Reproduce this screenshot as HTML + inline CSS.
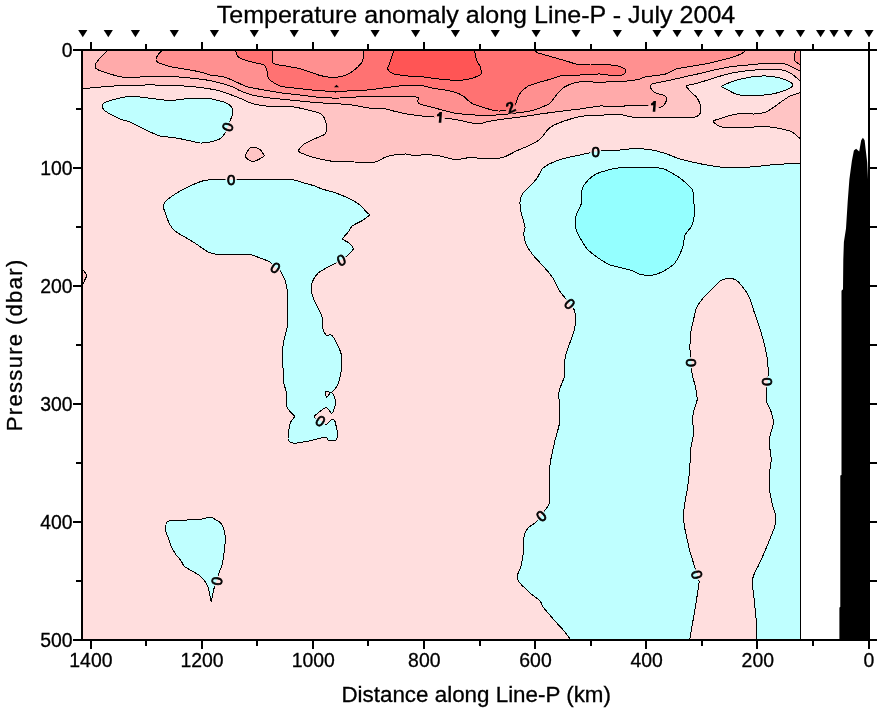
<!DOCTYPE html>
<html><head><meta charset="utf-8"><title>Temperature anomaly along Line-P</title>
<style>html,body{margin:0;padding:0;background:#fff}body{width:878px;height:708px;overflow:hidden}svg{display:block;will-change:transform}text{font-family:"Liberation Sans",sans-serif;fill:#000;stroke:#000;stroke-width:0.3px}</style></head><body>
<svg width="878" height="708" viewBox="0 0 878 708">
<rect width="878" height="708" fill="#fff"/>
<defs><clipPath id="cp"><rect x="83" y="51" width="717.5" height="588"/></clipPath></defs>
<defs><mask id="lm" maskUnits="userSpaceOnUse" x="0" y="0" width="878" height="708"><rect width="878" height="708" fill="#fff"/><ellipse cx="227.6" cy="126.9" rx="5.6" ry="6.6" transform="rotate(-70 227.6 126.9)" fill="#000"/><ellipse cx="231.1" cy="179.4" rx="5.6" ry="6.6" transform="rotate(0 231.1 179.4)" fill="#000"/><ellipse cx="275.7" cy="267.6" rx="5.6" ry="6.6" transform="rotate(35 275.7 267.6)" fill="#000"/><ellipse cx="341.2" cy="259.8" rx="5.6" ry="6.6" transform="rotate(-20 341.2 259.8)" fill="#000"/><ellipse cx="320.6" cy="420.8" rx="5.6" ry="6.6" transform="rotate(35 320.6 420.8)" fill="#000"/><ellipse cx="216.6" cy="581" rx="5.6" ry="6.6" transform="rotate(-82 216.6 581)" fill="#000"/><ellipse cx="595.6" cy="151.4" rx="5.6" ry="6.6" transform="rotate(0 595.6 151.4)" fill="#000"/><ellipse cx="569.8" cy="303.7" rx="5.6" ry="6.6" transform="rotate(45 569.8 303.7)" fill="#000"/><ellipse cx="541.1" cy="515.9" rx="5.6" ry="6.6" transform="rotate(-40 541.1 515.9)" fill="#000"/><ellipse cx="691.5" cy="362.6" rx="5.6" ry="6.6" transform="rotate(90 691.5 362.6)" fill="#000"/><ellipse cx="767.6" cy="381.8" rx="5.6" ry="6.6" transform="rotate(90 767.6 381.8)" fill="#000"/><ellipse cx="697.1" cy="574.7" rx="5.6" ry="6.6" transform="rotate(75 697.1 574.7)" fill="#000"/><ellipse cx="439.6" cy="117.4" rx="5.4" ry="6.6" transform="rotate(4 439.6 117.4)" fill="#000"/><ellipse cx="653.6" cy="106.4" rx="5.4" ry="6.6" transform="rotate(4 653.6 106.4)" fill="#000"/><ellipse cx="510.6" cy="107.3" rx="5.6" ry="6.6" transform="rotate(-25 510.6 107.3)" fill="#000"/></mask></defs>
<g clip-path="url(#cp)">
<rect x="83" y="51" width="717.5" height="588" fill="#FFDEDE"/>
<path d="M82.0,88.7 C84.2,88.5 95.4,87.5 100.0,87.1 C104.6,86.7 115.3,85.9 120.1,85.7 C124.9,85.5 135.3,85.2 140.1,85.1 C144.9,85.0 155.4,85.0 160.2,85.1 C165.0,85.2 175.4,85.4 180.2,85.7 C185.0,86.0 195.5,86.9 200.3,87.5 C205.1,88.1 215.5,89.8 220.3,91.1 C225.1,92.4 236.2,96.8 240.0,98.3 C243.8,99.8 248.9,102.6 252.0,103.5 C255.1,104.4 262.6,105.6 266.0,106.0 C269.4,106.4 276.6,106.6 280.0,106.7 C283.4,106.8 290.6,106.6 294.0,107.0 C297.4,107.4 304.9,109.2 308.2,110.0 C311.5,110.8 319.2,112.8 321.2,114.0 C323.2,115.2 324.6,118.4 325.2,120.0 C325.8,121.6 326.6,125.3 326.6,127.0 C326.6,128.7 326.7,132.6 325.2,134.0 C323.7,135.4 316.7,137.8 314.2,139.0 C311.7,140.2 306.0,142.6 304.1,144.0 C302.2,145.4 298.3,149.7 298.5,151.0 C298.7,152.3 303.5,154.0 306.1,155.0 C308.7,156.0 316.6,158.2 320.2,159.0 C323.8,159.8 332.1,161.4 336.2,161.8 C340.3,162.2 350.1,161.9 354.2,162.0 C358.3,162.1 367.4,163.1 370.3,163.0 C373.2,162.9 376.6,161.6 378.3,161.0 C380.0,160.4 382.4,158.3 384.3,157.6 C386.2,156.9 391.6,155.4 394.3,155.0 C397.0,154.6 403.8,153.9 406.4,154.0 C409.0,154.1 413.9,155.9 416.0,156.0 C418.1,156.1 421.1,154.5 424.0,154.5 C426.9,154.5 436.3,155.4 440.0,156.0 C443.7,156.6 451.4,159.4 455.0,159.6 C458.6,159.8 466.0,157.7 470.2,157.6 C474.4,157.5 486.1,159.1 490.2,159.0 C494.3,158.9 501.1,158.0 504.2,157.0 C507.3,156.0 513.2,152.4 516.3,151.0 C519.4,149.6 527.4,146.4 530.3,145.0 C533.2,143.6 538.1,140.9 540.3,139.0 C542.5,137.1 546.6,130.7 548.3,129.0 C550.0,127.3 552.4,126.0 554.3,125.0 C556.2,124.0 561.8,121.9 564.4,121.0 C567.0,120.1 573.6,118.1 576.0,117.5 C578.4,116.9 580.6,116.3 584.0,116.0 C587.4,115.7 599.7,115.2 604.0,115.0 C608.3,114.8 617.2,114.4 620.0,114.5 C622.8,114.6 625.5,115.7 627.5,116.1 C629.5,116.5 632.7,117.4 636.3,117.6 C639.9,117.8 652.0,117.6 657.6,117.6 C663.2,117.6 678.5,117.6 682.7,117.6 C686.9,117.6 690.8,117.6 692.7,117.4 C694.6,117.2 697.4,116.2 698.3,115.7 C699.2,115.2 699.9,114.2 700.2,113.2 C700.5,112.2 701.0,109.0 700.8,107.6 C700.6,106.2 699.5,102.7 698.9,101.3 C698.3,99.9 696.7,97.3 695.8,96.3 C694.9,95.3 692.3,93.5 691.4,92.6 C690.5,91.7 688.9,89.6 688.3,88.8 C687.7,88.0 685.4,86.3 686.2,85.7 C687.0,85.1 692.6,84.5 695.2,83.8 C697.8,83.1 705.0,80.9 707.7,80.0 C710.4,79.1 715.1,77.5 718.0,76.7 C720.9,75.9 728.4,73.7 732.0,73.0 C735.6,72.3 743.9,71.0 748.0,70.6 C752.1,70.2 761.9,69.5 766.0,69.4 C770.1,69.3 779.3,69.6 782.2,70.0 C785.1,70.4 788.0,71.7 790.2,73.0 C792.4,74.3 799.3,80.0 800.5,81.0 L802.5,49 L81,49 Z" fill="#FFC4C4"/>
<path d="M245.4,155.8 C245.7,154.6 248.5,149.1 249.5,148.1 C250.5,147.1 252.7,147.0 253.9,147.2 C255.1,147.4 258.6,148.7 259.7,149.4 C260.8,150.1 262.3,152.4 262.8,153.2 C263.3,154.0 264.5,155.3 264.1,156.0 C263.7,156.7 260.8,158.3 259.7,158.9 C258.6,159.5 255.8,161.0 254.6,161.2 C253.4,161.4 251.0,161.1 250.1,160.8 C249.2,160.5 247.5,158.9 246.9,158.3 C246.3,157.7 245.1,157.0 245.4,155.8Z" fill="#FFC4C4"/>
<path d="M800.5,92.5 C799.3,92.9 792.4,95.0 790.2,96.0 C788.0,97.0 784.1,99.7 782.2,101.0 C780.3,102.3 775.9,105.7 774.0,107.0 C772.1,108.3 768.4,111.2 766.0,112.0 C763.6,112.8 756.9,113.8 754.0,114.0 C751.1,114.2 744.6,113.4 742.0,113.5 C739.4,113.6 734.4,114.5 732.0,115.0 C729.6,115.5 724.2,117.3 722.0,118.0 C719.8,118.7 714.0,120.2 713.4,121.0 C712.8,121.8 716.0,124.3 717.0,125.0 C718.0,125.7 719.5,126.7 722.0,127.0 C724.5,127.3 734.2,127.6 738.0,127.6 C741.8,127.6 750.4,127.1 754.0,127.0 C757.6,126.9 764.6,126.6 768.0,126.8 C771.4,127.0 779.1,128.4 782.0,129.0 C784.9,129.6 789.8,130.8 792.0,132.0 C794.2,133.2 799.5,138.2 800.5,139.0Z" fill="#FFC4C4"/>
<path d="M83,270 L87,275.3 L83,284 Z" fill="#FFC4C4"/>
<path d="M108.0,50.0 C107.0,51.0 101.5,56.3 100.0,58.0 C98.5,59.7 96.1,62.8 95.6,64.0 C95.1,65.2 95.1,67.2 95.6,68.0 C96.1,68.8 98.3,70.0 100.0,70.7 C101.7,71.4 107.6,73.3 110.0,74.0 C112.4,74.7 117.6,76.3 120.0,76.7 C122.4,77.1 126.4,77.5 130.0,77.5 C133.6,77.5 145.2,76.6 150.0,76.5 C154.8,76.4 165.4,76.3 170.2,76.5 C175.0,76.7 185.4,77.5 190.2,78.0 C195.0,78.5 205.5,79.7 210.3,80.7 C215.1,81.7 226.7,84.8 230.3,86.0 C233.9,87.2 237.4,89.6 240.0,90.7 C242.6,91.8 248.4,94.1 252.0,95.0 C255.6,95.9 265.4,97.4 270.0,98.0 C274.6,98.6 285.2,99.5 290.0,100.0 C294.8,100.5 305.4,101.6 310.2,102.0 C315.0,102.4 325.4,103.2 330.2,103.5 C335.0,103.8 345.4,104.1 350.2,104.7 C355.0,105.3 366.1,107.8 370.0,108.2 C373.9,108.6 379.5,107.8 382.5,108.2 C385.5,108.6 392.0,110.7 395.0,111.4 C398.0,112.1 404.6,113.6 407.6,114.1 C410.6,114.6 416.9,115.5 420.1,115.8 C423.3,116.1 431.5,116.8 433.9,117.0 C436.3,117.2 438.5,117.3 440.0,117.5 C441.5,117.7 444.3,118.0 446.4,118.3 C448.5,118.6 454.8,119.4 457.7,119.9 C460.6,120.4 467.6,122.2 470.3,122.7 C473.0,123.2 478.1,123.8 480.0,123.7 C481.9,123.6 483.8,122.5 486.2,122.0 C488.6,121.5 496.1,120.1 500.2,119.5 C504.3,118.9 515.5,117.7 520.3,117.0 C525.1,116.3 535.5,114.7 540.3,114.0 C545.1,113.3 555.6,111.9 560.4,111.3 C565.2,110.7 575.2,109.6 580.0,109.0 C584.8,108.4 595.9,106.3 600.0,106.0 C604.1,105.7 610.1,106.8 614.0,106.7 C617.9,106.6 628.6,105.6 632.5,105.5 C636.4,105.4 644.4,105.4 646.9,105.5 C649.4,105.6 652.0,106.1 653.6,106.3 C655.2,106.5 658.9,107.4 660.1,107.3 C661.3,107.2 663.2,105.8 663.9,105.1 C664.6,104.4 665.8,102.2 666.1,101.3 C666.4,100.4 666.9,98.3 666.6,97.6 C666.3,96.9 664.4,95.6 663.2,95.1 C662.0,94.6 657.5,93.7 656.3,93.2 C655.1,92.7 653.5,91.5 652.8,90.7 C652.1,89.9 650.1,87.7 650.1,86.9 C650.1,86.1 651.2,84.4 652.6,83.8 C654.0,83.2 658.5,82.5 661.4,81.9 C664.3,81.3 672.9,79.6 676.4,78.8 C679.9,78.0 686.7,76.4 690.2,75.6 C693.7,74.8 702.3,73.0 705.2,72.3 C708.1,71.6 710.8,70.7 714.0,70.0 C717.2,69.3 727.4,67.2 732.0,66.6 C736.6,66.0 747.9,65.0 752.0,64.6 C756.1,64.2 762.4,63.5 766.0,63.4 C769.6,63.3 779.3,63.1 782.2,63.4 C785.1,63.7 788.0,65.1 790.2,66.0 C792.4,66.9 799.3,70.7 800.5,71.3 L802.5,49 L108,49 Z" fill="#FFAAAA"/>
<path d="M162.2,50.0 C161.6,50.7 157.9,54.7 157.2,56.0 C156.5,57.3 155.8,60.1 156.2,61.0 C156.6,61.9 158.5,62.7 160.2,63.4 C161.9,64.1 167.3,65.9 170.2,66.6 C173.1,67.3 180.6,68.4 184.2,69.0 C187.8,69.6 197.2,71.3 200.3,72.0 C203.4,72.7 207.4,74.4 210.3,75.0 C213.2,75.6 221.2,76.2 224.3,77.0 C227.4,77.8 233.6,80.9 236.3,82.0 C239.0,83.1 243.1,85.5 246.4,86.5 C249.7,87.5 260.0,89.3 264.0,90.0 C268.0,90.7 275.7,92.1 280.0,92.7 C284.3,93.3 295.2,94.4 300.0,95.0 C304.8,95.6 315.4,97.1 320.2,97.5 C325.0,97.9 335.4,98.1 340.2,98.0 C345.0,97.9 356.7,96.9 360.3,96.7 C363.9,96.5 366.3,96.1 370.0,96.1 C373.7,96.1 385.7,96.5 391.3,96.6 C396.9,96.7 413.8,96.5 417.0,97.1 C420.2,97.7 417.2,100.6 417.6,101.4 C418.0,102.2 418.3,103.4 420.1,104.1 C421.9,104.8 429.7,106.6 432.7,107.4 C435.7,108.2 442.2,110.1 445.2,110.8 C448.2,111.5 453.5,113.1 457.7,113.6 C461.9,114.1 475.4,115.1 480.0,115.3 C484.6,115.5 492.3,115.2 496.2,115.0 C500.1,114.8 508.1,114.0 512.2,113.5 C516.3,113.0 526.7,111.8 530.3,111.0 C533.9,110.2 539.9,108.0 542.3,107.0 C544.7,106.0 548.6,104.4 550.3,103.0 C552.0,101.6 554.6,96.9 556.3,95.0 C558.0,93.1 562.0,88.5 564.4,87.0 C566.8,85.5 572.9,83.2 576.0,82.5 C579.1,81.8 587.4,81.4 590.0,81.5 C592.6,81.6 595.6,83.0 598.0,83.0 C600.4,83.0 607.4,81.7 610.0,81.5 C612.6,81.3 617.9,81.6 620.0,81.5 C622.1,81.4 625.2,81.3 627.5,81.0 C629.8,80.7 636.7,79.9 638.8,79.4 C640.9,78.9 642.8,77.4 645.1,76.9 C647.4,76.4 655.0,75.7 657.6,75.3 C660.2,74.9 664.2,74.6 666.4,73.8 C668.6,73.0 673.2,69.9 676.0,69.0 C678.8,68.1 685.9,67.3 690.0,66.6 C694.1,65.9 706.6,63.7 710.0,63.0 C713.4,62.3 715.4,61.7 718.0,61.0 C720.6,60.3 729.1,58.3 732.0,57.4 C734.9,56.5 740.4,54.3 742.0,53.4 C743.6,52.5 745.3,50.4 745.7,50.0Z" fill="#FF9090"/>
<path d="M796.2,50.0 C796.0,50.7 794.3,54.7 794.2,56.0 C794.1,57.3 794.4,59.9 795.2,61.0 C796.0,62.1 799.9,64.5 800.5,65.0 L802.5,49 Z" fill="#FF9090"/>
<path d="M235.3,50.0 C235.7,50.8 237.0,55.7 238.3,57.0 C239.6,58.3 244.3,59.9 246.4,60.6 C248.5,61.3 253.9,62.5 256.0,63.0 C258.1,63.5 262.7,64.0 264.0,65.0 C265.3,66.0 266.4,69.3 267.0,71.0 C267.6,72.7 267.4,77.2 269.0,79.0 C270.6,80.8 276.3,84.8 280.0,86.0 C283.7,87.2 295.2,88.1 300.0,88.7 C304.8,89.3 315.9,90.4 320.2,90.7 C324.5,91.0 332.4,91.5 336.2,91.5 C340.0,91.5 348.1,90.9 352.2,90.7 C356.3,90.5 365.9,90.2 370.0,89.8 C374.1,89.4 382.1,88.1 386.3,87.6 C390.5,87.1 401.0,85.6 405.1,85.3 C409.2,85.0 416.8,85.1 420.1,85.4 C423.4,85.7 429.7,87.6 432.7,88.2 C435.7,88.8 442.5,89.6 445.2,90.1 C447.9,90.6 453.1,91.6 455.2,92.3 C457.3,93.0 461.2,94.8 462.7,95.7 C464.2,96.6 466.5,99.1 467.7,100.1 C468.9,101.1 471.3,103.1 472.8,103.9 C474.3,104.7 478.1,105.7 480.2,106.4 C482.3,107.1 488.0,108.9 490.2,109.5 C492.4,110.1 496.4,110.9 498.2,111.0 C500.0,111.1 503.7,110.8 505.2,110.5 C506.7,110.2 509.3,109.1 510.5,108.5 C511.7,107.9 514.4,106.6 515.2,105.5 C516.0,104.4 516.7,100.5 517.3,99.0 C517.9,97.5 519.0,94.6 520.3,93.0 C521.6,91.4 525.9,87.3 528.3,86.0 C530.7,84.7 537.4,82.9 540.3,82.0 C543.2,81.1 549.9,79.4 552.3,78.7 C554.7,78.0 557.1,76.4 560.4,76.0 C563.7,75.6 575.2,75.2 580.0,75.0 C584.8,74.8 595.7,73.9 600.0,74.0 C604.3,74.1 613.1,76.0 616.0,76.0 C618.9,76.0 622.6,75.0 623.8,74.4 C625.0,73.8 625.5,71.9 625.6,71.3 C625.7,70.7 625.9,69.6 625.0,69.0 C624.1,68.4 620.5,66.5 618.0,66.0 C615.5,65.5 607.4,64.7 604.0,64.6 C600.6,64.5 593.4,65.1 590.0,65.0 C586.6,64.9 578.8,64.5 576.0,64.0 C573.2,63.5 569.2,61.8 566.4,61.0 C563.6,60.2 555.7,58.0 552.3,57.0 C548.9,56.0 540.5,53.8 538.3,53.0 C536.1,52.2 534.4,50.4 533.9,50.0Z" fill="#FF7272"/>
<path d="M272.7,50.0 C272.7,51.6 271.1,61.1 272.7,63.0 C274.3,64.9 282.7,65.3 286.0,66.0 C289.3,66.7 297.1,68.0 300.0,68.7 C302.9,69.4 307.8,71.2 310.2,72.0 C312.6,72.8 317.3,74.8 320.2,75.5 C323.1,76.2 331.1,77.6 334.2,77.5 C337.3,77.4 343.8,75.9 346.2,75.0 C348.6,74.1 352.5,71.4 354.3,70.0 C356.1,68.6 360.2,64.6 361.3,63.0 C362.4,61.4 363.4,58.6 363.7,57.0 C364.0,55.4 363.7,50.8 363.7,50.0Z" fill="#FF9090"/>
<path d="M394.0,50.0 C393.6,51.2 391.3,58.1 390.7,60.0 C390.1,61.9 389.2,64.6 388.8,65.6 C388.4,66.6 386.8,67.6 387.3,68.5 C387.8,69.4 390.2,72.6 392.6,73.5 C395.0,74.4 404.0,75.6 407.6,76.0 C411.2,76.4 418.8,76.5 422.6,76.9 C426.4,77.3 435.0,78.6 438.9,79.0 C442.8,79.4 451.7,80.3 455.2,80.3 C458.7,80.3 464.7,80.0 467.7,79.4 C470.7,78.8 478.4,75.9 480.0,75.0 C481.6,74.1 481.2,73.1 481.2,72.0 C481.2,70.9 480.6,67.1 480.2,66.0 C479.8,64.9 478.3,64.1 477.8,63.0 C477.3,61.9 476.2,58.6 475.8,57.0 C475.4,55.4 474.7,50.8 474.6,50.0Z" fill="#FF5555"/>
<path d="M102.0,105.1 C102.2,104.1 103.8,102.9 106.0,102.0 C108.2,101.1 117.1,98.7 120.0,98.0 C122.9,97.3 127.6,96.6 130.0,96.5 C132.4,96.4 136.4,96.6 140.0,97.0 C143.6,97.4 156.6,99.1 160.2,99.5 C163.8,99.9 167.3,100.8 170.2,100.7 C173.1,100.6 180.6,99.3 184.2,99.0 C187.8,98.7 197.2,98.0 200.3,98.0 C203.4,98.0 207.9,98.3 210.3,98.7 C212.7,99.1 218.1,100.4 220.3,101.0 C222.5,101.6 226.8,103.0 228.3,104.0 C229.8,105.0 232.2,107.7 232.7,109.0 C233.2,110.3 232.6,113.7 232.3,115.0 C232.0,116.3 231.0,118.6 230.4,120.0 C229.8,121.4 228.3,125.4 227.6,127.0 C226.9,128.6 225.6,132.1 224.7,133.5 C223.8,134.9 221.9,137.6 220.3,138.6 C218.7,139.6 213.8,141.3 211.4,141.8 C209.0,142.3 202.8,143.1 200.3,143.0 C197.8,142.9 193.1,141.4 190.2,140.8 C187.3,140.2 179.8,138.6 176.2,138.0 C172.6,137.4 163.3,136.7 160.2,136.0 C157.1,135.3 152.6,133.1 150.2,132.0 C147.8,130.9 142.4,128.2 140.0,127.0 C137.6,125.8 132.4,123.0 130.0,122.0 C127.6,121.0 122.4,120.0 120.0,119.0 C117.6,118.0 111.9,115.1 110.0,114.0 C108.1,112.9 105.0,111.1 104.0,110.0 C103.0,108.9 101.8,106.1 102.0,105.1Z" fill="#BFFFFF"/>
<path d="M163.2,205.0 C163.7,203.7 166.2,200.6 168.2,199.0 C170.2,197.4 177.4,192.6 180.2,191.0 C183.0,189.4 189.4,186.2 192.2,185.0 C195.0,183.8 201.5,181.1 204.3,180.5 C207.1,179.9 213.9,179.6 216.3,179.5 C218.8,179.4 222.9,179.7 225.3,179.7 C227.7,179.7 233.2,179.7 236.8,179.7 C240.4,179.7 251.4,180.0 256.0,180.0 C260.6,180.0 271.6,179.5 276.0,179.5 C280.4,179.5 290.7,179.6 294.0,180.0 C297.3,180.4 301.7,182.3 304.0,183.0 C306.3,183.7 311.9,185.0 314.0,185.7 C316.1,186.4 319.4,188.1 322.0,189.0 C324.6,189.9 332.7,191.8 336.0,193.0 C339.3,194.2 347.2,197.6 350.0,199.0 C352.8,200.4 358.1,203.5 360.0,205.0 C361.9,206.5 364.9,210.5 366.0,211.7 C367.1,212.9 369.7,214.0 369.3,215.0 C368.9,216.0 364.3,219.2 362.3,220.5 C360.3,221.8 353.8,224.7 352.2,226.0 C350.6,227.3 349.3,230.5 348.2,232.0 C347.1,233.5 342.5,237.7 342.6,239.0 C342.7,240.3 348.0,241.8 349.2,243.0 C350.4,244.2 353.3,247.6 353.2,249.0 C353.1,250.4 349.6,253.7 348.2,255.0 C346.8,256.3 342.8,258.8 341.2,259.8 C339.6,260.9 335.9,263.0 334.2,264.0 C332.4,265.0 328.1,266.9 326.2,268.0 C324.3,269.1 319.7,271.6 318.2,273.0 C316.7,274.4 314.0,278.2 313.2,280.0 C312.4,281.8 311.2,285.9 311.2,288.0 C311.2,290.1 312.3,295.4 313.2,298.0 C314.1,300.6 318.1,307.7 319.2,310.0 C320.2,312.3 321.8,315.9 322.2,318.0 C322.6,320.1 322.1,326.0 322.6,328.0 C323.1,330.0 325.2,334.2 326.2,335.0 C327.2,335.8 330.0,334.2 331.2,335.0 C332.4,335.8 335.0,339.8 336.2,342.0 C337.4,344.2 340.5,351.2 341.2,354.0 C341.9,356.8 342.0,363.2 341.8,366.0 C341.6,368.8 340.3,375.8 339.8,378.0 C339.3,380.2 338.5,383.3 337.6,385.0 C336.7,386.7 332.9,391.6 331.7,392.3 C330.5,393.0 328.3,391.3 327.5,391.4 C326.7,391.5 325.3,392.1 325.2,392.8 C325.1,393.5 326.1,397.3 326.6,397.4 C327.1,397.5 329.2,393.9 329.8,393.3 C330.4,392.7 331.2,391.9 331.7,392.3 C332.2,392.7 333.9,395.7 334.4,397.0 C334.9,398.3 335.6,402.0 335.6,403.3 C335.6,404.6 334.9,406.8 334.4,408.0 C333.9,409.2 332.6,413.5 331.7,413.4 C330.8,413.3 327.7,407.9 326.6,407.5 C325.5,407.1 323.4,408.7 322.0,409.8 C320.6,410.9 314.4,415.4 314.2,416.7 C314.0,418.0 319.2,419.9 320.6,420.8 C322.0,421.7 324.8,424.6 326.1,424.4 C327.4,424.2 330.7,419.8 331.7,419.4 C332.7,419.0 334.3,420.1 334.9,421.2 C335.5,422.3 336.4,427.4 336.7,429.0 C337.0,430.6 337.9,433.2 337.8,434.5 C337.7,435.8 336.9,439.3 335.8,440.0 C334.7,440.7 329.5,440.8 328.4,440.5 C327.3,440.2 327.6,437.6 326.6,437.3 C325.6,437.0 322.2,437.8 320.2,438.2 C318.2,438.6 311.7,440.5 309.2,441.0 C306.7,441.5 300.6,442.4 298.8,442.7 C297.0,443.0 295.0,443.6 293.8,443.3 C292.6,443.0 288.8,441.6 288.2,440.0 C287.6,438.4 288.5,432.1 288.8,430.0 C289.1,427.9 290.0,423.6 290.7,422.0 C291.4,420.4 294.4,417.7 294.5,416.6 C294.6,415.6 292.2,414.1 291.3,413.0 C290.4,411.9 287.4,409.1 286.9,407.0 C286.4,404.9 287.3,397.9 286.9,395.0 C286.5,392.1 284.2,385.4 283.8,382.5 C283.4,379.6 283.4,372.2 283.2,370.0 C283.0,367.8 282.6,366.3 282.5,364.0 C282.4,361.7 282.3,352.8 282.5,350.0 C282.7,347.2 283.6,342.7 284.1,340.0 C284.6,337.3 286.8,330.5 287.1,327.0 C287.5,323.5 287.1,314.3 287.1,310.0 C287.1,305.7 287.3,293.5 287.1,290.0 C286.9,286.5 285.5,281.4 285.1,280.0 C284.7,278.6 284.6,279.2 284.0,278.0 C283.4,276.8 281.0,271.2 280.0,270.0 C279.0,268.8 276.9,268.5 275.7,267.6 C274.5,266.7 271.8,263.1 270.0,262.0 C268.2,260.9 262.1,258.8 260.0,258.0 C257.9,257.2 254.3,255.4 252.0,255.0 C249.7,254.6 242.3,254.6 240.0,254.6 C237.7,254.6 234.8,255.0 232.3,255.0 C229.8,255.0 221.1,254.9 218.3,254.6 C215.5,254.2 210.9,253.2 208.3,252.0 C205.7,250.8 198.9,245.7 196.3,244.0 C193.7,242.3 188.4,239.1 186.2,237.8 C184.0,236.5 178.8,233.7 177.2,232.6 C175.6,231.5 173.2,229.4 172.2,228.0 C171.1,226.6 169.1,223.1 168.2,221.0 C167.3,218.9 164.8,211.9 164.2,210.0 C163.6,208.1 162.7,206.3 163.2,205.0Z" fill="#BFFFFF"/>
<path d="M165.4,527.1 C165.6,526.1 166.1,522.8 167.1,522.0 C168.1,521.2 171.5,520.5 173.9,520.3 C176.3,520.1 184.5,520.1 187.5,520.0 C190.5,519.9 196.6,519.8 199.3,519.5 C202.0,519.2 208.3,517.2 210.3,517.3 C212.3,517.4 215.0,519.2 216.3,520.0 C217.6,520.8 220.4,522.2 221.4,523.7 C222.4,525.2 224.3,530.0 224.7,532.2 C225.1,534.4 225.2,539.8 225.1,542.4 C225.0,545.0 224.2,551.6 223.9,554.2 C223.6,556.8 222.7,562.4 222.2,564.4 C221.7,566.4 220.2,569.8 219.7,571.2 C219.2,572.6 218.4,575.1 218.0,576.3 C217.6,577.5 217.0,579.8 216.6,581.0 C216.2,582.2 215.1,584.7 214.6,586.4 C214.1,588.1 212.9,593.1 212.5,594.9 C212.1,596.7 211.5,601.4 211.2,601.4 C210.9,601.4 210.2,596.7 209.8,594.9 C209.4,593.1 208.4,588.1 207.8,586.4 C207.2,584.7 205.4,581.8 204.4,580.5 C203.4,579.2 200.9,576.6 199.3,575.4 C197.7,574.2 192.6,571.4 190.8,570.3 C189.0,569.2 185.3,567.3 184.1,566.1 C182.9,564.9 181.7,561.6 180.7,560.2 C179.7,558.8 176.7,555.8 175.6,554.2 C174.5,552.6 172.3,548.6 171.4,546.6 C170.5,544.6 168.7,539.2 168.0,537.3 C167.3,535.4 165.7,531.7 165.4,530.5 C165.1,529.3 165.2,528.1 165.4,527.1Z" fill="#BFFFFF"/>
<path d="M722.0,86.3 C722.7,85.2 730.9,82.1 734.0,81.0 C737.1,79.9 744.6,78.1 748.0,77.5 C751.4,76.9 758.9,76.1 762.0,76.0 C765.1,75.9 771.1,76.2 774.0,76.7 C776.9,77.2 783.7,79.0 786.0,80.0 C788.3,81.0 793.2,83.8 793.2,85.0 C793.2,86.2 788.5,88.9 786.0,90.0 C783.5,91.1 775.6,93.3 772.0,94.0 C768.4,94.7 760.1,95.4 756.0,95.5 C751.9,95.6 741.4,95.4 738.0,94.7 C734.6,94.0 729.9,91.0 728.0,90.0 C726.1,89.0 721.3,87.4 722.0,86.3Z" fill="#BFFFFF"/>
<path d="M800.5,164.0 C798.6,164.0 787.9,163.9 784.3,164.0 C780.7,164.1 774.4,164.6 770.3,165.0 C766.2,165.4 754.1,166.8 750.0,167.0 C745.9,167.2 739.8,167.0 736.2,167.0 C732.6,167.0 724.5,167.4 720.2,167.0 C715.9,166.6 704.8,164.7 700.0,163.7 C695.2,162.7 684.3,160.3 680.0,159.0 C675.7,157.7 667.6,154.1 664.0,153.0 C660.4,151.9 652.9,150.1 650.0,149.6 C647.1,149.1 642.4,148.9 640.0,148.8 C637.6,148.7 632.7,148.8 630.3,148.9 C627.9,149.0 622.5,149.8 620.3,150.0 C618.1,150.2 614.1,150.4 612.0,150.4 C609.9,150.4 605.2,150.3 603.2,150.4 C601.2,150.5 597.4,151.1 595.6,151.4 C593.8,151.7 591.2,152.5 588.2,153.2 C585.2,153.9 574.1,156.1 570.2,157.0 C566.3,157.9 559.4,159.7 556.1,161.0 C552.8,162.3 545.4,166.0 543.1,168.0 C540.8,170.0 538.7,175.8 537.1,178.0 C535.5,180.2 531.8,184.2 530.1,186.0 C528.4,187.8 524.2,191.1 523.0,193.0 C521.8,194.9 520.2,199.7 520.0,202.0 C519.8,204.3 520.4,209.0 521.0,212.0 C521.6,215.0 524.7,224.4 525.0,227.0 C525.3,229.6 523.6,232.0 523.7,234.0 C523.8,236.0 524.9,241.5 526.0,244.0 C527.1,246.5 531.0,252.4 533.0,255.0 C535.0,257.6 541.0,263.7 543.0,266.0 C545.0,268.3 548.7,272.3 550.0,274.0 C551.3,275.7 553.0,278.1 554.1,280.0 C555.2,281.9 557.8,287.8 559.1,290.0 C560.4,292.2 563.8,296.4 565.1,298.0 C566.4,299.6 568.7,302.3 569.8,303.7 C570.9,305.1 573.5,308.3 574.2,310.0 C574.9,311.7 575.8,315.6 575.8,318.0 C575.8,320.4 574.9,327.1 574.2,330.0 C573.5,332.9 571.2,339.1 570.2,342.0 C569.2,344.9 566.8,351.1 566.1,354.0 C565.4,356.9 564.3,363.4 564.1,366.0 C563.9,368.6 565.0,373.4 564.5,376.0 C564.0,378.6 560.8,385.8 560.1,388.0 C559.4,390.2 558.6,392.6 558.5,394.0 C558.4,395.4 559.0,396.6 559.1,400.0 C559.2,403.4 560.2,417.2 559.7,422.0 C559.2,426.8 556.1,435.7 555.1,440.0 C554.1,444.3 551.7,454.6 551.1,458.0 C550.5,461.4 549.9,463.9 549.7,468.0 C549.5,472.1 549.8,487.7 549.7,492.0 C549.6,496.3 549.7,501.8 549.1,504.0 C548.5,506.2 546.1,508.6 545.1,510.0 C544.1,511.4 542.2,514.5 541.1,515.9 C540.0,517.3 537.7,520.5 536.1,522.0 C534.5,523.5 529.5,526.3 528.1,528.0 C526.7,529.7 524.6,533.4 524.1,536.0 C523.6,538.6 524.1,546.4 523.7,550.0 C523.3,553.6 521.7,563.0 521.0,566.0 C520.3,569.0 517.8,573.1 517.6,575.0 C517.4,576.9 517.5,579.8 519.0,582.0 C520.5,584.2 527.6,590.7 530.1,593.0 C532.6,595.3 538.5,599.3 540.1,601.0 C541.7,602.7 541.4,604.7 543.1,607.0 C544.8,609.3 551.6,617.1 554.1,620.0 C556.6,622.9 562.1,628.7 564.1,631.0 C566.1,633.3 569.7,638.5 570.5,639.5 L802.5,641 L802.5,164 Z" fill="#BFFFFF"/>
<path d="M620.3,167.7 C624.2,167.3 636.0,167.0 640.3,167.0 C644.6,167.0 653.5,167.5 656.4,167.7 C659.3,167.9 662.8,168.5 664.4,169.0 C666.0,169.5 668.1,170.9 670.0,172.0 C671.9,173.1 678.0,176.6 680.0,178.0 C682.0,179.4 685.5,182.6 687.0,184.0 C688.5,185.4 691.7,188.1 692.5,190.0 C693.3,191.9 693.5,197.1 693.7,200.0 C693.9,202.9 694.7,210.9 694.5,214.0 C694.3,217.1 692.8,223.5 691.7,226.0 C690.6,228.5 686.0,232.6 685.0,235.0 C684.0,237.4 683.7,243.5 683.0,246.0 C682.3,248.5 680.1,253.8 679.0,256.0 C677.9,258.2 675.8,262.2 674.0,264.0 C672.2,265.8 666.6,269.6 664.0,271.0 C661.4,272.4 654.9,274.9 652.0,275.3 C649.1,275.7 642.6,274.9 640.0,274.3 C637.4,273.7 633.9,271.1 630.3,270.0 C626.7,268.9 614.1,266.4 610.2,265.0 C606.3,263.6 601.0,259.9 598.2,258.0 C595.4,256.1 589.4,251.4 587.2,249.0 C585.0,246.6 581.6,240.5 580.2,238.0 C578.8,235.5 576.3,230.8 575.8,228.0 C575.3,225.2 575.6,217.9 576.2,215.0 C576.8,212.1 580.5,207.1 581.2,204.0 C581.9,200.9 581.4,191.9 582.2,189.0 C583.0,186.1 586.5,181.8 588.2,180.0 C589.9,178.2 593.8,175.2 596.2,174.0 C598.6,172.8 605.3,170.8 608.2,170.0 C611.1,169.2 616.4,168.1 620.3,167.7Z" fill="#94FFFF"/>
<path d="M689.7,639.5 C690.1,637.2 692.2,625.2 693.1,620.0 C694.0,614.8 696.4,600.6 697.1,596.0 C697.8,591.4 699.1,584.6 699.1,582.0 C699.1,579.4 697.6,576.4 697.1,574.7 C696.6,573.0 695.9,570.7 695.1,568.0 C694.3,565.3 691.3,556.6 690.1,552.0 C688.9,547.4 685.9,533.8 685.1,530.0 C684.3,526.2 683.8,522.6 683.7,520.0 C683.6,517.4 683.7,511.6 684.1,508.0 C684.5,504.4 686.4,494.6 687.1,490.0 C687.8,485.4 689.3,474.8 689.7,470.0 C690.1,465.2 690.1,454.1 690.5,450.0 C690.9,445.9 692.8,440.3 693.1,436.0 C693.4,431.7 692.6,418.3 693.1,414.0 C693.6,409.7 696.8,403.1 697.1,400.0 C697.4,396.9 696.3,391.1 695.7,388.0 C695.1,384.9 692.6,377.0 692.1,374.0 C691.6,371.0 691.7,365.0 691.5,362.6 C691.3,360.2 690.2,357.4 690.1,354.0 C690.0,350.6 690.1,337.8 690.5,334.0 C690.9,330.2 692.4,325.0 693.1,322.0 C693.8,319.0 694.9,311.9 696.1,309.0 C697.3,306.1 701.2,300.4 703.1,298.0 C705.0,295.6 710.1,291.0 712.1,289.0 C714.1,287.0 718.2,282.3 720.1,281.0 C722.0,279.7 726.3,278.6 728.1,278.4 C729.9,278.2 733.6,278.8 735.2,279.6 C736.8,280.4 739.5,282.9 741.2,285.0 C742.9,287.1 747.6,293.8 749.2,297.0 C750.8,300.2 752.9,308.3 754.2,312.0 C755.5,315.7 758.6,324.2 759.8,328.0 C761.0,331.8 763.3,340.4 764.2,344.0 C765.1,347.6 766.7,354.6 767.2,358.0 C767.7,361.4 768.2,369.1 768.2,372.0 C768.2,374.9 767.8,379.4 767.6,381.8 C767.4,384.2 766.3,389.6 766.2,392.0 C766.1,394.4 766.0,399.6 766.6,402.0 C767.2,404.4 770.4,409.5 771.2,412.0 C772.0,414.5 773.5,419.6 773.3,423.0 C773.1,426.4 769.5,435.6 769.2,440.0 C768.9,444.4 771.2,455.9 771.2,460.0 C771.2,464.1 769.4,470.2 769.2,474.0 C769.0,477.8 769.3,487.9 769.8,492.0 C770.3,496.1 772.6,505.0 773.3,508.0 C774.0,511.0 775.8,514.6 775.9,517.0 C776.0,519.4 775.5,524.3 774.3,528.0 C773.1,531.7 768.0,543.7 766.2,548.0 C764.4,552.3 760.6,560.9 759.2,564.0 C757.8,567.1 755.0,571.8 754.2,574.0 C753.4,576.2 752.2,578.9 752.2,582.0 C752.2,585.1 753.7,595.4 754.2,600.0 C754.7,604.6 755.9,615.3 756.2,620.0 C756.5,624.7 756.7,637.2 756.8,639.5Z" fill="#FFDEDE"/>
</g>
<g clip-path="url(#cp)"><g mask="url(#lm)" fill="none" stroke="#000" stroke-width="1" stroke-linejoin="round" stroke-linecap="round" shape-rendering="crispEdges">
<path d="M82.0,88.7 C84.2,88.5 95.4,87.5 100.0,87.1 C104.6,86.7 115.3,85.9 120.1,85.7 C124.9,85.5 135.3,85.2 140.1,85.1 C144.9,85.0 155.4,85.0 160.2,85.1 C165.0,85.2 175.4,85.4 180.2,85.7 C185.0,86.0 195.5,86.9 200.3,87.5 C205.1,88.1 215.5,89.8 220.3,91.1 C225.1,92.4 236.2,96.8 240.0,98.3 C243.8,99.8 248.9,102.6 252.0,103.5 C255.1,104.4 262.6,105.6 266.0,106.0 C269.4,106.4 276.6,106.6 280.0,106.7 C283.4,106.8 290.6,106.6 294.0,107.0 C297.4,107.4 304.9,109.2 308.2,110.0 C311.5,110.8 319.2,112.8 321.2,114.0 C323.2,115.2 324.6,118.4 325.2,120.0 C325.8,121.6 326.6,125.3 326.6,127.0 C326.6,128.7 326.7,132.6 325.2,134.0 C323.7,135.4 316.7,137.8 314.2,139.0 C311.7,140.2 306.0,142.6 304.1,144.0 C302.2,145.4 298.3,149.7 298.5,151.0 C298.7,152.3 303.5,154.0 306.1,155.0 C308.7,156.0 316.6,158.2 320.2,159.0 C323.8,159.8 332.1,161.4 336.2,161.8 C340.3,162.2 350.1,161.9 354.2,162.0 C358.3,162.1 367.4,163.1 370.3,163.0 C373.2,162.9 376.6,161.6 378.3,161.0 C380.0,160.4 382.4,158.3 384.3,157.6 C386.2,156.9 391.6,155.4 394.3,155.0 C397.0,154.6 403.8,153.9 406.4,154.0 C409.0,154.1 413.9,155.9 416.0,156.0 C418.1,156.1 421.1,154.5 424.0,154.5 C426.9,154.5 436.3,155.4 440.0,156.0 C443.7,156.6 451.4,159.4 455.0,159.6 C458.6,159.8 466.0,157.7 470.2,157.6 C474.4,157.5 486.1,159.1 490.2,159.0 C494.3,158.9 501.1,158.0 504.2,157.0 C507.3,156.0 513.2,152.4 516.3,151.0 C519.4,149.6 527.4,146.4 530.3,145.0 C533.2,143.6 538.1,140.9 540.3,139.0 C542.5,137.1 546.6,130.7 548.3,129.0 C550.0,127.3 552.4,126.0 554.3,125.0 C556.2,124.0 561.8,121.9 564.4,121.0 C567.0,120.1 573.6,118.1 576.0,117.5 C578.4,116.9 580.6,116.3 584.0,116.0 C587.4,115.7 599.7,115.2 604.0,115.0 C608.3,114.8 617.2,114.4 620.0,114.5 C622.8,114.6 625.5,115.7 627.5,116.1 C629.5,116.5 632.7,117.4 636.3,117.6 C639.9,117.8 652.0,117.6 657.6,117.6 C663.2,117.6 678.5,117.6 682.7,117.6 C686.9,117.6 690.8,117.6 692.7,117.4 C694.6,117.2 697.4,116.2 698.3,115.7 C699.2,115.2 699.9,114.2 700.2,113.2 C700.5,112.2 701.0,109.0 700.8,107.6 C700.6,106.2 699.5,102.7 698.9,101.3 C698.3,99.9 696.7,97.3 695.8,96.3 C694.9,95.3 692.3,93.5 691.4,92.6 C690.5,91.7 688.9,89.6 688.3,88.8 C687.7,88.0 685.4,86.3 686.2,85.7 C687.0,85.1 692.6,84.5 695.2,83.8 C697.8,83.1 705.0,80.9 707.7,80.0 C710.4,79.1 715.1,77.5 718.0,76.7 C720.9,75.9 728.4,73.7 732.0,73.0 C735.6,72.3 743.9,71.0 748.0,70.6 C752.1,70.2 761.9,69.5 766.0,69.4 C770.1,69.3 779.3,69.6 782.2,70.0 C785.1,70.4 788.0,71.7 790.2,73.0 C792.4,74.3 799.3,80.0 800.5,81.0"/>
<path d="M245.4,155.8 C245.7,154.6 248.5,149.1 249.5,148.1 C250.5,147.1 252.7,147.0 253.9,147.2 C255.1,147.4 258.6,148.7 259.7,149.4 C260.8,150.1 262.3,152.4 262.8,153.2 C263.3,154.0 264.5,155.3 264.1,156.0 C263.7,156.7 260.8,158.3 259.7,158.9 C258.6,159.5 255.8,161.0 254.6,161.2 C253.4,161.4 251.0,161.1 250.1,160.8 C249.2,160.5 247.5,158.9 246.9,158.3 C246.3,157.7 245.1,157.0 245.4,155.8Z"/>
<path d="M800.5,92.5 C799.3,92.9 792.4,95.0 790.2,96.0 C788.0,97.0 784.1,99.7 782.2,101.0 C780.3,102.3 775.9,105.7 774.0,107.0 C772.1,108.3 768.4,111.2 766.0,112.0 C763.6,112.8 756.9,113.8 754.0,114.0 C751.1,114.2 744.6,113.4 742.0,113.5 C739.4,113.6 734.4,114.5 732.0,115.0 C729.6,115.5 724.2,117.3 722.0,118.0 C719.8,118.7 714.0,120.2 713.4,121.0 C712.8,121.8 716.0,124.3 717.0,125.0 C718.0,125.7 719.5,126.7 722.0,127.0 C724.5,127.3 734.2,127.6 738.0,127.6 C741.8,127.6 750.4,127.1 754.0,127.0 C757.6,126.9 764.6,126.6 768.0,126.8 C771.4,127.0 779.1,128.4 782.0,129.0 C784.9,129.6 789.8,130.8 792.0,132.0 C794.2,133.2 799.5,138.2 800.5,139.0"/>
<path d="M83,270 L87,275.3 L83,284"/>
<path d="M108.0,50.0 C107.0,51.0 101.5,56.3 100.0,58.0 C98.5,59.7 96.1,62.8 95.6,64.0 C95.1,65.2 95.1,67.2 95.6,68.0 C96.1,68.8 98.3,70.0 100.0,70.7 C101.7,71.4 107.6,73.3 110.0,74.0 C112.4,74.7 117.6,76.3 120.0,76.7 C122.4,77.1 126.4,77.5 130.0,77.5 C133.6,77.5 145.2,76.6 150.0,76.5 C154.8,76.4 165.4,76.3 170.2,76.5 C175.0,76.7 185.4,77.5 190.2,78.0 C195.0,78.5 205.5,79.7 210.3,80.7 C215.1,81.7 226.7,84.8 230.3,86.0 C233.9,87.2 237.4,89.6 240.0,90.7 C242.6,91.8 248.4,94.1 252.0,95.0 C255.6,95.9 265.4,97.4 270.0,98.0 C274.6,98.6 285.2,99.5 290.0,100.0 C294.8,100.5 305.4,101.6 310.2,102.0 C315.0,102.4 325.4,103.2 330.2,103.5 C335.0,103.8 345.4,104.1 350.2,104.7 C355.0,105.3 366.1,107.8 370.0,108.2 C373.9,108.6 379.5,107.8 382.5,108.2 C385.5,108.6 392.0,110.7 395.0,111.4 C398.0,112.1 404.6,113.6 407.6,114.1 C410.6,114.6 416.9,115.5 420.1,115.8 C423.3,116.1 431.5,116.8 433.9,117.0 C436.3,117.2 438.5,117.3 440.0,117.5 C441.5,117.7 444.3,118.0 446.4,118.3 C448.5,118.6 454.8,119.4 457.7,119.9 C460.6,120.4 467.6,122.2 470.3,122.7 C473.0,123.2 478.1,123.8 480.0,123.7 C481.9,123.6 483.8,122.5 486.2,122.0 C488.6,121.5 496.1,120.1 500.2,119.5 C504.3,118.9 515.5,117.7 520.3,117.0 C525.1,116.3 535.5,114.7 540.3,114.0 C545.1,113.3 555.6,111.9 560.4,111.3 C565.2,110.7 575.2,109.6 580.0,109.0 C584.8,108.4 595.9,106.3 600.0,106.0 C604.1,105.7 610.1,106.8 614.0,106.7 C617.9,106.6 628.6,105.6 632.5,105.5 C636.4,105.4 644.4,105.4 646.9,105.5 C649.4,105.6 652.0,106.1 653.6,106.3 C655.2,106.5 658.9,107.4 660.1,107.3 C661.3,107.2 663.2,105.8 663.9,105.1 C664.6,104.4 665.8,102.2 666.1,101.3 C666.4,100.4 666.9,98.3 666.6,97.6 C666.3,96.9 664.4,95.6 663.2,95.1 C662.0,94.6 657.5,93.7 656.3,93.2 C655.1,92.7 653.5,91.5 652.8,90.7 C652.1,89.9 650.1,87.7 650.1,86.9 C650.1,86.1 651.2,84.4 652.6,83.8 C654.0,83.2 658.5,82.5 661.4,81.9 C664.3,81.3 672.9,79.6 676.4,78.8 C679.9,78.0 686.7,76.4 690.2,75.6 C693.7,74.8 702.3,73.0 705.2,72.3 C708.1,71.6 710.8,70.7 714.0,70.0 C717.2,69.3 727.4,67.2 732.0,66.6 C736.6,66.0 747.9,65.0 752.0,64.6 C756.1,64.2 762.4,63.5 766.0,63.4 C769.6,63.3 779.3,63.1 782.2,63.4 C785.1,63.7 788.0,65.1 790.2,66.0 C792.4,66.9 799.3,70.7 800.5,71.3"/>
<path d="M162.2,50.0 C161.6,50.7 157.9,54.7 157.2,56.0 C156.5,57.3 155.8,60.1 156.2,61.0 C156.6,61.9 158.5,62.7 160.2,63.4 C161.9,64.1 167.3,65.9 170.2,66.6 C173.1,67.3 180.6,68.4 184.2,69.0 C187.8,69.6 197.2,71.3 200.3,72.0 C203.4,72.7 207.4,74.4 210.3,75.0 C213.2,75.6 221.2,76.2 224.3,77.0 C227.4,77.8 233.6,80.9 236.3,82.0 C239.0,83.1 243.1,85.5 246.4,86.5 C249.7,87.5 260.0,89.3 264.0,90.0 C268.0,90.7 275.7,92.1 280.0,92.7 C284.3,93.3 295.2,94.4 300.0,95.0 C304.8,95.6 315.4,97.1 320.2,97.5 C325.0,97.9 335.4,98.1 340.2,98.0 C345.0,97.9 356.7,96.9 360.3,96.7 C363.9,96.5 366.3,96.1 370.0,96.1 C373.7,96.1 385.7,96.5 391.3,96.6 C396.9,96.7 413.8,96.5 417.0,97.1 C420.2,97.7 417.2,100.6 417.6,101.4 C418.0,102.2 418.3,103.4 420.1,104.1 C421.9,104.8 429.7,106.6 432.7,107.4 C435.7,108.2 442.2,110.1 445.2,110.8 C448.2,111.5 453.5,113.1 457.7,113.6 C461.9,114.1 475.4,115.1 480.0,115.3 C484.6,115.5 492.3,115.2 496.2,115.0 C500.1,114.8 508.1,114.0 512.2,113.5 C516.3,113.0 526.7,111.8 530.3,111.0 C533.9,110.2 539.9,108.0 542.3,107.0 C544.7,106.0 548.6,104.4 550.3,103.0 C552.0,101.6 554.6,96.9 556.3,95.0 C558.0,93.1 562.0,88.5 564.4,87.0 C566.8,85.5 572.9,83.2 576.0,82.5 C579.1,81.8 587.4,81.4 590.0,81.5 C592.6,81.6 595.6,83.0 598.0,83.0 C600.4,83.0 607.4,81.7 610.0,81.5 C612.6,81.3 617.9,81.6 620.0,81.5 C622.1,81.4 625.2,81.3 627.5,81.0 C629.8,80.7 636.7,79.9 638.8,79.4 C640.9,78.9 642.8,77.4 645.1,76.9 C647.4,76.4 655.0,75.7 657.6,75.3 C660.2,74.9 664.2,74.6 666.4,73.8 C668.6,73.0 673.2,69.9 676.0,69.0 C678.8,68.1 685.9,67.3 690.0,66.6 C694.1,65.9 706.6,63.7 710.0,63.0 C713.4,62.3 715.4,61.7 718.0,61.0 C720.6,60.3 729.1,58.3 732.0,57.4 C734.9,56.5 740.4,54.3 742.0,53.4 C743.6,52.5 745.3,50.4 745.7,50.0"/>
<path d="M796.2,50.0 C796.0,50.7 794.3,54.7 794.2,56.0 C794.1,57.3 794.4,59.9 795.2,61.0 C796.0,62.1 799.9,64.5 800.5,65.0"/>
<path d="M235.3,50.0 C235.7,50.8 237.0,55.7 238.3,57.0 C239.6,58.3 244.3,59.9 246.4,60.6 C248.5,61.3 253.9,62.5 256.0,63.0 C258.1,63.5 262.7,64.0 264.0,65.0 C265.3,66.0 266.4,69.3 267.0,71.0 C267.6,72.7 267.4,77.2 269.0,79.0 C270.6,80.8 276.3,84.8 280.0,86.0 C283.7,87.2 295.2,88.1 300.0,88.7 C304.8,89.3 315.9,90.4 320.2,90.7 C324.5,91.0 332.4,91.5 336.2,91.5 C340.0,91.5 348.1,90.9 352.2,90.7 C356.3,90.5 365.9,90.2 370.0,89.8 C374.1,89.4 382.1,88.1 386.3,87.6 C390.5,87.1 401.0,85.6 405.1,85.3 C409.2,85.0 416.8,85.1 420.1,85.4 C423.4,85.7 429.7,87.6 432.7,88.2 C435.7,88.8 442.5,89.6 445.2,90.1 C447.9,90.6 453.1,91.6 455.2,92.3 C457.3,93.0 461.2,94.8 462.7,95.7 C464.2,96.6 466.5,99.1 467.7,100.1 C468.9,101.1 471.3,103.1 472.8,103.9 C474.3,104.7 478.1,105.7 480.2,106.4 C482.3,107.1 488.0,108.9 490.2,109.5 C492.4,110.1 496.4,110.9 498.2,111.0 C500.0,111.1 503.7,110.8 505.2,110.5 C506.7,110.2 509.3,109.1 510.5,108.5 C511.7,107.9 514.4,106.6 515.2,105.5 C516.0,104.4 516.7,100.5 517.3,99.0 C517.9,97.5 519.0,94.6 520.3,93.0 C521.6,91.4 525.9,87.3 528.3,86.0 C530.7,84.7 537.4,82.9 540.3,82.0 C543.2,81.1 549.9,79.4 552.3,78.7 C554.7,78.0 557.1,76.4 560.4,76.0 C563.7,75.6 575.2,75.2 580.0,75.0 C584.8,74.8 595.7,73.9 600.0,74.0 C604.3,74.1 613.1,76.0 616.0,76.0 C618.9,76.0 622.6,75.0 623.8,74.4 C625.0,73.8 625.5,71.9 625.6,71.3 C625.7,70.7 625.9,69.6 625.0,69.0 C624.1,68.4 620.5,66.5 618.0,66.0 C615.5,65.5 607.4,64.7 604.0,64.6 C600.6,64.5 593.4,65.1 590.0,65.0 C586.6,64.9 578.8,64.5 576.0,64.0 C573.2,63.5 569.2,61.8 566.4,61.0 C563.6,60.2 555.7,58.0 552.3,57.0 C548.9,56.0 540.5,53.8 538.3,53.0 C536.1,52.2 534.4,50.4 533.9,50.0"/>
<path d="M272.7,50.0 C272.7,51.6 271.1,61.1 272.7,63.0 C274.3,64.9 282.7,65.3 286.0,66.0 C289.3,66.7 297.1,68.0 300.0,68.7 C302.9,69.4 307.8,71.2 310.2,72.0 C312.6,72.8 317.3,74.8 320.2,75.5 C323.1,76.2 331.1,77.6 334.2,77.5 C337.3,77.4 343.8,75.9 346.2,75.0 C348.6,74.1 352.5,71.4 354.3,70.0 C356.1,68.6 360.2,64.6 361.3,63.0 C362.4,61.4 363.4,58.6 363.7,57.0 C364.0,55.4 363.7,50.8 363.7,50.0"/>
<path d="M394.0,50.0 C393.6,51.2 391.3,58.1 390.7,60.0 C390.1,61.9 389.2,64.6 388.8,65.6 C388.4,66.6 386.8,67.6 387.3,68.5 C387.8,69.4 390.2,72.6 392.6,73.5 C395.0,74.4 404.0,75.6 407.6,76.0 C411.2,76.4 418.8,76.5 422.6,76.9 C426.4,77.3 435.0,78.6 438.9,79.0 C442.8,79.4 451.7,80.3 455.2,80.3 C458.7,80.3 464.7,80.0 467.7,79.4 C470.7,78.8 478.4,75.9 480.0,75.0 C481.6,74.1 481.2,73.1 481.2,72.0 C481.2,70.9 480.6,67.1 480.2,66.0 C479.8,64.9 478.3,64.1 477.8,63.0 C477.3,61.9 476.2,58.6 475.8,57.0 C475.4,55.4 474.7,50.8 474.6,50.0"/>
<path d="M102.0,105.1 C102.2,104.1 103.8,102.9 106.0,102.0 C108.2,101.1 117.1,98.7 120.0,98.0 C122.9,97.3 127.6,96.6 130.0,96.5 C132.4,96.4 136.4,96.6 140.0,97.0 C143.6,97.4 156.6,99.1 160.2,99.5 C163.8,99.9 167.3,100.8 170.2,100.7 C173.1,100.6 180.6,99.3 184.2,99.0 C187.8,98.7 197.2,98.0 200.3,98.0 C203.4,98.0 207.9,98.3 210.3,98.7 C212.7,99.1 218.1,100.4 220.3,101.0 C222.5,101.6 226.8,103.0 228.3,104.0 C229.8,105.0 232.2,107.7 232.7,109.0 C233.2,110.3 232.6,113.7 232.3,115.0 C232.0,116.3 231.0,118.6 230.4,120.0 C229.8,121.4 228.3,125.4 227.6,127.0 C226.9,128.6 225.6,132.1 224.7,133.5 C223.8,134.9 221.9,137.6 220.3,138.6 C218.7,139.6 213.8,141.3 211.4,141.8 C209.0,142.3 202.8,143.1 200.3,143.0 C197.8,142.9 193.1,141.4 190.2,140.8 C187.3,140.2 179.8,138.6 176.2,138.0 C172.6,137.4 163.3,136.7 160.2,136.0 C157.1,135.3 152.6,133.1 150.2,132.0 C147.8,130.9 142.4,128.2 140.0,127.0 C137.6,125.8 132.4,123.0 130.0,122.0 C127.6,121.0 122.4,120.0 120.0,119.0 C117.6,118.0 111.9,115.1 110.0,114.0 C108.1,112.9 105.0,111.1 104.0,110.0 C103.0,108.9 101.8,106.1 102.0,105.1Z"/>
<path d="M163.2,205.0 C163.7,203.7 166.2,200.6 168.2,199.0 C170.2,197.4 177.4,192.6 180.2,191.0 C183.0,189.4 189.4,186.2 192.2,185.0 C195.0,183.8 201.5,181.1 204.3,180.5 C207.1,179.9 213.9,179.6 216.3,179.5 C218.8,179.4 222.9,179.7 225.3,179.7 C227.7,179.7 233.2,179.7 236.8,179.7 C240.4,179.7 251.4,180.0 256.0,180.0 C260.6,180.0 271.6,179.5 276.0,179.5 C280.4,179.5 290.7,179.6 294.0,180.0 C297.3,180.4 301.7,182.3 304.0,183.0 C306.3,183.7 311.9,185.0 314.0,185.7 C316.1,186.4 319.4,188.1 322.0,189.0 C324.6,189.9 332.7,191.8 336.0,193.0 C339.3,194.2 347.2,197.6 350.0,199.0 C352.8,200.4 358.1,203.5 360.0,205.0 C361.9,206.5 364.9,210.5 366.0,211.7 C367.1,212.9 369.7,214.0 369.3,215.0 C368.9,216.0 364.3,219.2 362.3,220.5 C360.3,221.8 353.8,224.7 352.2,226.0 C350.6,227.3 349.3,230.5 348.2,232.0 C347.1,233.5 342.5,237.7 342.6,239.0 C342.7,240.3 348.0,241.8 349.2,243.0 C350.4,244.2 353.3,247.6 353.2,249.0 C353.1,250.4 349.6,253.7 348.2,255.0 C346.8,256.3 342.8,258.8 341.2,259.8 C339.6,260.9 335.9,263.0 334.2,264.0 C332.4,265.0 328.1,266.9 326.2,268.0 C324.3,269.1 319.7,271.6 318.2,273.0 C316.7,274.4 314.0,278.2 313.2,280.0 C312.4,281.8 311.2,285.9 311.2,288.0 C311.2,290.1 312.3,295.4 313.2,298.0 C314.1,300.6 318.1,307.7 319.2,310.0 C320.2,312.3 321.8,315.9 322.2,318.0 C322.6,320.1 322.1,326.0 322.6,328.0 C323.1,330.0 325.2,334.2 326.2,335.0 C327.2,335.8 330.0,334.2 331.2,335.0 C332.4,335.8 335.0,339.8 336.2,342.0 C337.4,344.2 340.5,351.2 341.2,354.0 C341.9,356.8 342.0,363.2 341.8,366.0 C341.6,368.8 340.3,375.8 339.8,378.0 C339.3,380.2 338.5,383.3 337.6,385.0 C336.7,386.7 332.9,391.6 331.7,392.3 C330.5,393.0 328.3,391.3 327.5,391.4 C326.7,391.5 325.3,392.1 325.2,392.8 C325.1,393.5 326.1,397.3 326.6,397.4 C327.1,397.5 329.2,393.9 329.8,393.3 C330.4,392.7 331.2,391.9 331.7,392.3 C332.2,392.7 333.9,395.7 334.4,397.0 C334.9,398.3 335.6,402.0 335.6,403.3 C335.6,404.6 334.9,406.8 334.4,408.0 C333.9,409.2 332.6,413.5 331.7,413.4 C330.8,413.3 327.7,407.9 326.6,407.5 C325.5,407.1 323.4,408.7 322.0,409.8 C320.6,410.9 314.4,415.4 314.2,416.7 C314.0,418.0 319.2,419.9 320.6,420.8 C322.0,421.7 324.8,424.6 326.1,424.4 C327.4,424.2 330.7,419.8 331.7,419.4 C332.7,419.0 334.3,420.1 334.9,421.2 C335.5,422.3 336.4,427.4 336.7,429.0 C337.0,430.6 337.9,433.2 337.8,434.5 C337.7,435.8 336.9,439.3 335.8,440.0 C334.7,440.7 329.5,440.8 328.4,440.5 C327.3,440.2 327.6,437.6 326.6,437.3 C325.6,437.0 322.2,437.8 320.2,438.2 C318.2,438.6 311.7,440.5 309.2,441.0 C306.7,441.5 300.6,442.4 298.8,442.7 C297.0,443.0 295.0,443.6 293.8,443.3 C292.6,443.0 288.8,441.6 288.2,440.0 C287.6,438.4 288.5,432.1 288.8,430.0 C289.1,427.9 290.0,423.6 290.7,422.0 C291.4,420.4 294.4,417.7 294.5,416.6 C294.6,415.6 292.2,414.1 291.3,413.0 C290.4,411.9 287.4,409.1 286.9,407.0 C286.4,404.9 287.3,397.9 286.9,395.0 C286.5,392.1 284.2,385.4 283.8,382.5 C283.4,379.6 283.4,372.2 283.2,370.0 C283.0,367.8 282.6,366.3 282.5,364.0 C282.4,361.7 282.3,352.8 282.5,350.0 C282.7,347.2 283.6,342.7 284.1,340.0 C284.6,337.3 286.8,330.5 287.1,327.0 C287.5,323.5 287.1,314.3 287.1,310.0 C287.1,305.7 287.3,293.5 287.1,290.0 C286.9,286.5 285.5,281.4 285.1,280.0 C284.7,278.6 284.6,279.2 284.0,278.0 C283.4,276.8 281.0,271.2 280.0,270.0 C279.0,268.8 276.9,268.5 275.7,267.6 C274.5,266.7 271.8,263.1 270.0,262.0 C268.2,260.9 262.1,258.8 260.0,258.0 C257.9,257.2 254.3,255.4 252.0,255.0 C249.7,254.6 242.3,254.6 240.0,254.6 C237.7,254.6 234.8,255.0 232.3,255.0 C229.8,255.0 221.1,254.9 218.3,254.6 C215.5,254.2 210.9,253.2 208.3,252.0 C205.7,250.8 198.9,245.7 196.3,244.0 C193.7,242.3 188.4,239.1 186.2,237.8 C184.0,236.5 178.8,233.7 177.2,232.6 C175.6,231.5 173.2,229.4 172.2,228.0 C171.1,226.6 169.1,223.1 168.2,221.0 C167.3,218.9 164.8,211.9 164.2,210.0 C163.6,208.1 162.7,206.3 163.2,205.0Z"/>
<path d="M165.4,527.1 C165.6,526.1 166.1,522.8 167.1,522.0 C168.1,521.2 171.5,520.5 173.9,520.3 C176.3,520.1 184.5,520.1 187.5,520.0 C190.5,519.9 196.6,519.8 199.3,519.5 C202.0,519.2 208.3,517.2 210.3,517.3 C212.3,517.4 215.0,519.2 216.3,520.0 C217.6,520.8 220.4,522.2 221.4,523.7 C222.4,525.2 224.3,530.0 224.7,532.2 C225.1,534.4 225.2,539.8 225.1,542.4 C225.0,545.0 224.2,551.6 223.9,554.2 C223.6,556.8 222.7,562.4 222.2,564.4 C221.7,566.4 220.2,569.8 219.7,571.2 C219.2,572.6 218.4,575.1 218.0,576.3 C217.6,577.5 217.0,579.8 216.6,581.0 C216.2,582.2 215.1,584.7 214.6,586.4 C214.1,588.1 212.9,593.1 212.5,594.9 C212.1,596.7 211.5,601.4 211.2,601.4 C210.9,601.4 210.2,596.7 209.8,594.9 C209.4,593.1 208.4,588.1 207.8,586.4 C207.2,584.7 205.4,581.8 204.4,580.5 C203.4,579.2 200.9,576.6 199.3,575.4 C197.7,574.2 192.6,571.4 190.8,570.3 C189.0,569.2 185.3,567.3 184.1,566.1 C182.9,564.9 181.7,561.6 180.7,560.2 C179.7,558.8 176.7,555.8 175.6,554.2 C174.5,552.6 172.3,548.6 171.4,546.6 C170.5,544.6 168.7,539.2 168.0,537.3 C167.3,535.4 165.7,531.7 165.4,530.5 C165.1,529.3 165.2,528.1 165.4,527.1Z"/>
<path d="M722.0,86.3 C722.7,85.2 730.9,82.1 734.0,81.0 C737.1,79.9 744.6,78.1 748.0,77.5 C751.4,76.9 758.9,76.1 762.0,76.0 C765.1,75.9 771.1,76.2 774.0,76.7 C776.9,77.2 783.7,79.0 786.0,80.0 C788.3,81.0 793.2,83.8 793.2,85.0 C793.2,86.2 788.5,88.9 786.0,90.0 C783.5,91.1 775.6,93.3 772.0,94.0 C768.4,94.7 760.1,95.4 756.0,95.5 C751.9,95.6 741.4,95.4 738.0,94.7 C734.6,94.0 729.9,91.0 728.0,90.0 C726.1,89.0 721.3,87.4 722.0,86.3Z"/>
<path d="M800.5,164.0 C798.6,164.0 787.9,163.9 784.3,164.0 C780.7,164.1 774.4,164.6 770.3,165.0 C766.2,165.4 754.1,166.8 750.0,167.0 C745.9,167.2 739.8,167.0 736.2,167.0 C732.6,167.0 724.5,167.4 720.2,167.0 C715.9,166.6 704.8,164.7 700.0,163.7 C695.2,162.7 684.3,160.3 680.0,159.0 C675.7,157.7 667.6,154.1 664.0,153.0 C660.4,151.9 652.9,150.1 650.0,149.6 C647.1,149.1 642.4,148.9 640.0,148.8 C637.6,148.7 632.7,148.8 630.3,148.9 C627.9,149.0 622.5,149.8 620.3,150.0 C618.1,150.2 614.1,150.4 612.0,150.4 C609.9,150.4 605.2,150.3 603.2,150.4 C601.2,150.5 597.4,151.1 595.6,151.4 C593.8,151.7 591.2,152.5 588.2,153.2 C585.2,153.9 574.1,156.1 570.2,157.0 C566.3,157.9 559.4,159.7 556.1,161.0 C552.8,162.3 545.4,166.0 543.1,168.0 C540.8,170.0 538.7,175.8 537.1,178.0 C535.5,180.2 531.8,184.2 530.1,186.0 C528.4,187.8 524.2,191.1 523.0,193.0 C521.8,194.9 520.2,199.7 520.0,202.0 C519.8,204.3 520.4,209.0 521.0,212.0 C521.6,215.0 524.7,224.4 525.0,227.0 C525.3,229.6 523.6,232.0 523.7,234.0 C523.8,236.0 524.9,241.5 526.0,244.0 C527.1,246.5 531.0,252.4 533.0,255.0 C535.0,257.6 541.0,263.7 543.0,266.0 C545.0,268.3 548.7,272.3 550.0,274.0 C551.3,275.7 553.0,278.1 554.1,280.0 C555.2,281.9 557.8,287.8 559.1,290.0 C560.4,292.2 563.8,296.4 565.1,298.0 C566.4,299.6 568.7,302.3 569.8,303.7 C570.9,305.1 573.5,308.3 574.2,310.0 C574.9,311.7 575.8,315.6 575.8,318.0 C575.8,320.4 574.9,327.1 574.2,330.0 C573.5,332.9 571.2,339.1 570.2,342.0 C569.2,344.9 566.8,351.1 566.1,354.0 C565.4,356.9 564.3,363.4 564.1,366.0 C563.9,368.6 565.0,373.4 564.5,376.0 C564.0,378.6 560.8,385.8 560.1,388.0 C559.4,390.2 558.6,392.6 558.5,394.0 C558.4,395.4 559.0,396.6 559.1,400.0 C559.2,403.4 560.2,417.2 559.7,422.0 C559.2,426.8 556.1,435.7 555.1,440.0 C554.1,444.3 551.7,454.6 551.1,458.0 C550.5,461.4 549.9,463.9 549.7,468.0 C549.5,472.1 549.8,487.7 549.7,492.0 C549.6,496.3 549.7,501.8 549.1,504.0 C548.5,506.2 546.1,508.6 545.1,510.0 C544.1,511.4 542.2,514.5 541.1,515.9 C540.0,517.3 537.7,520.5 536.1,522.0 C534.5,523.5 529.5,526.3 528.1,528.0 C526.7,529.7 524.6,533.4 524.1,536.0 C523.6,538.6 524.1,546.4 523.7,550.0 C523.3,553.6 521.7,563.0 521.0,566.0 C520.3,569.0 517.8,573.1 517.6,575.0 C517.4,576.9 517.5,579.8 519.0,582.0 C520.5,584.2 527.6,590.7 530.1,593.0 C532.6,595.3 538.5,599.3 540.1,601.0 C541.7,602.7 541.4,604.7 543.1,607.0 C544.8,609.3 551.6,617.1 554.1,620.0 C556.6,622.9 562.1,628.7 564.1,631.0 C566.1,633.3 569.7,638.5 570.5,639.5"/>
<path d="M620.3,167.7 C624.2,167.3 636.0,167.0 640.3,167.0 C644.6,167.0 653.5,167.5 656.4,167.7 C659.3,167.9 662.8,168.5 664.4,169.0 C666.0,169.5 668.1,170.9 670.0,172.0 C671.9,173.1 678.0,176.6 680.0,178.0 C682.0,179.4 685.5,182.6 687.0,184.0 C688.5,185.4 691.7,188.1 692.5,190.0 C693.3,191.9 693.5,197.1 693.7,200.0 C693.9,202.9 694.7,210.9 694.5,214.0 C694.3,217.1 692.8,223.5 691.7,226.0 C690.6,228.5 686.0,232.6 685.0,235.0 C684.0,237.4 683.7,243.5 683.0,246.0 C682.3,248.5 680.1,253.8 679.0,256.0 C677.9,258.2 675.8,262.2 674.0,264.0 C672.2,265.8 666.6,269.6 664.0,271.0 C661.4,272.4 654.9,274.9 652.0,275.3 C649.1,275.7 642.6,274.9 640.0,274.3 C637.4,273.7 633.9,271.1 630.3,270.0 C626.7,268.9 614.1,266.4 610.2,265.0 C606.3,263.6 601.0,259.9 598.2,258.0 C595.4,256.1 589.4,251.4 587.2,249.0 C585.0,246.6 581.6,240.5 580.2,238.0 C578.8,235.5 576.3,230.8 575.8,228.0 C575.3,225.2 575.6,217.9 576.2,215.0 C576.8,212.1 580.5,207.1 581.2,204.0 C581.9,200.9 581.4,191.9 582.2,189.0 C583.0,186.1 586.5,181.8 588.2,180.0 C589.9,178.2 593.8,175.2 596.2,174.0 C598.6,172.8 605.3,170.8 608.2,170.0 C611.1,169.2 616.4,168.1 620.3,167.7Z"/>
<path d="M689.7,639.5 C690.1,637.2 692.2,625.2 693.1,620.0 C694.0,614.8 696.4,600.6 697.1,596.0 C697.8,591.4 699.1,584.6 699.1,582.0 C699.1,579.4 697.6,576.4 697.1,574.7 C696.6,573.0 695.9,570.7 695.1,568.0 C694.3,565.3 691.3,556.6 690.1,552.0 C688.9,547.4 685.9,533.8 685.1,530.0 C684.3,526.2 683.8,522.6 683.7,520.0 C683.6,517.4 683.7,511.6 684.1,508.0 C684.5,504.4 686.4,494.6 687.1,490.0 C687.8,485.4 689.3,474.8 689.7,470.0 C690.1,465.2 690.1,454.1 690.5,450.0 C690.9,445.9 692.8,440.3 693.1,436.0 C693.4,431.7 692.6,418.3 693.1,414.0 C693.6,409.7 696.8,403.1 697.1,400.0 C697.4,396.9 696.3,391.1 695.7,388.0 C695.1,384.9 692.6,377.0 692.1,374.0 C691.6,371.0 691.7,365.0 691.5,362.6 C691.3,360.2 690.2,357.4 690.1,354.0 C690.0,350.6 690.1,337.8 690.5,334.0 C690.9,330.2 692.4,325.0 693.1,322.0 C693.8,319.0 694.9,311.9 696.1,309.0 C697.3,306.1 701.2,300.4 703.1,298.0 C705.0,295.6 710.1,291.0 712.1,289.0 C714.1,287.0 718.2,282.3 720.1,281.0 C722.0,279.7 726.3,278.6 728.1,278.4 C729.9,278.2 733.6,278.8 735.2,279.6 C736.8,280.4 739.5,282.9 741.2,285.0 C742.9,287.1 747.6,293.8 749.2,297.0 C750.8,300.2 752.9,308.3 754.2,312.0 C755.5,315.7 758.6,324.2 759.8,328.0 C761.0,331.8 763.3,340.4 764.2,344.0 C765.1,347.6 766.7,354.6 767.2,358.0 C767.7,361.4 768.2,369.1 768.2,372.0 C768.2,374.9 767.8,379.4 767.6,381.8 C767.4,384.2 766.3,389.6 766.2,392.0 C766.1,394.4 766.0,399.6 766.6,402.0 C767.2,404.4 770.4,409.5 771.2,412.0 C772.0,414.5 773.5,419.6 773.3,423.0 C773.1,426.4 769.5,435.6 769.2,440.0 C768.9,444.4 771.2,455.9 771.2,460.0 C771.2,464.1 769.4,470.2 769.2,474.0 C769.0,477.8 769.3,487.9 769.8,492.0 C770.3,496.1 772.6,505.0 773.3,508.0 C774.0,511.0 775.8,514.6 775.9,517.0 C776.0,519.4 775.5,524.3 774.3,528.0 C773.1,531.7 768.0,543.7 766.2,548.0 C764.4,552.3 760.6,560.9 759.2,564.0 C757.8,567.1 755.0,571.8 754.2,574.0 C753.4,576.2 752.2,578.9 752.2,582.0 C752.2,585.1 753.7,595.4 754.2,600.0 C754.7,604.6 755.9,615.3 756.2,620.0 C756.5,624.7 756.7,637.2 756.8,639.5"/>
</g></g>
<path d="M334,87.2 L336.5,84.8 L339,87.2 Z" fill="#000"/>
<path d="M335.4,91.3 V93" stroke="#000" stroke-width="1" fill="none"/>
<text x="227.6" y="126.9" transform="rotate(-70 227.6 126.9)" font-size="15" text-anchor="middle" dominant-baseline="central" style="stroke-width:0.75px">0</text>
<text x="231.1" y="179.4" transform="rotate(0 231.1 179.4)" font-size="15" text-anchor="middle" dominant-baseline="central" style="stroke-width:0.75px">0</text>
<text x="275.7" y="267.6" transform="rotate(35 275.7 267.6)" font-size="15" text-anchor="middle" dominant-baseline="central" style="stroke-width:0.75px">0</text>
<text x="341.2" y="259.8" transform="rotate(-20 341.2 259.8)" font-size="15" text-anchor="middle" dominant-baseline="central" style="stroke-width:0.75px">0</text>
<text x="320.6" y="420.8" transform="rotate(35 320.6 420.8)" font-size="15" text-anchor="middle" dominant-baseline="central" style="stroke-width:0.75px">0</text>
<text x="216.6" y="581" transform="rotate(-82 216.6 581)" font-size="15" text-anchor="middle" dominant-baseline="central" style="stroke-width:0.75px">0</text>
<text x="595.6" y="151.4" transform="rotate(0 595.6 151.4)" font-size="15" text-anchor="middle" dominant-baseline="central" style="stroke-width:0.75px">0</text>
<text x="569.8" y="303.7" transform="rotate(45 569.8 303.7)" font-size="15" text-anchor="middle" dominant-baseline="central" style="stroke-width:0.75px">0</text>
<text x="541.1" y="515.9" transform="rotate(-40 541.1 515.9)" font-size="15" text-anchor="middle" dominant-baseline="central" style="stroke-width:0.75px">0</text>
<text x="691.5" y="362.6" transform="rotate(90 691.5 362.6)" font-size="15" text-anchor="middle" dominant-baseline="central" style="stroke-width:0.75px">0</text>
<text x="767.6" y="381.8" transform="rotate(90 767.6 381.8)" font-size="15" text-anchor="middle" dominant-baseline="central" style="stroke-width:0.75px">0</text>
<text x="697.1" y="574.7" transform="rotate(75 697.1 574.7)" font-size="15" text-anchor="middle" dominant-baseline="central" style="stroke-width:0.75px">0</text>
<path transform="translate(437 112)" d="M2.6,0 L5,0 L4.3,10.8 L1.7,10.8 L2.3,4.3 L0,4.3 L0,2.4 C1.2,2 2,1.2 2.6,0 Z" fill="#000"/>
<path transform="translate(651 101)" d="M2.6,0 L5,0 L4.3,10.8 L1.7,10.8 L2.3,4.3 L0,4.3 L0,2.4 C1.2,2 2,1.2 2.6,0 Z" fill="#000"/>
<text x="510.6" y="107.3" transform="rotate(-25 510.6 107.3)" font-size="15.5" font-weight="bold" text-anchor="middle" dominant-baseline="central">2</text>
<rect x="800" y="50" width="1" height="590" fill="#000"/>
<path d="M839.4,639.5 L839.4,607.6 L840.3,607 L840.3,475.6 L841.5,475 L841.5,290.8 L843,289.3 L843.3,259.7 L843.9,241.9 L846,228.5 L847.7,201.4 L849.4,179.3 L851.9,160.7 L853.9,150.5 L856.1,148.8 L859.2,151.4 L861.2,140.3 L862.9,137.8 L864.6,140.3 L865.8,150.5 L867.2,162.4 L868,179.3 L868,639.5 Z" fill="#000"/>
<g fill="#000" shape-rendering="crispEdges">
<rect x="81" y="49" width="2" height="592"/>
<rect x="868" y="42" width="2" height="607"/>
<rect x="73" y="49" width="804" height="2"/>
<rect x="73" y="639" width="804" height="2"/>
<rect x="868" y="42" width="2" height="7"/>
<rect x="868" y="641" width="2" height="8"/>
<rect x="812" y="44" width="2" height="5"/>
<rect x="812" y="641" width="2" height="5"/>
<rect x="756" y="42" width="2" height="7"/>
<rect x="756" y="641" width="2" height="8"/>
<rect x="701" y="44" width="2" height="5"/>
<rect x="701" y="641" width="2" height="5"/>
<rect x="645" y="42" width="2" height="7"/>
<rect x="645" y="641" width="2" height="8"/>
<rect x="590" y="44" width="2" height="5"/>
<rect x="590" y="641" width="2" height="5"/>
<rect x="534" y="42" width="2" height="7"/>
<rect x="534" y="641" width="2" height="8"/>
<rect x="479" y="44" width="2" height="5"/>
<rect x="479" y="641" width="2" height="5"/>
<rect x="423" y="42" width="2" height="7"/>
<rect x="423" y="641" width="2" height="8"/>
<rect x="367" y="44" width="2" height="5"/>
<rect x="367" y="641" width="2" height="5"/>
<rect x="312" y="42" width="2" height="7"/>
<rect x="312" y="641" width="2" height="8"/>
<rect x="256" y="44" width="2" height="5"/>
<rect x="256" y="641" width="2" height="5"/>
<rect x="201" y="42" width="2" height="7"/>
<rect x="201" y="641" width="2" height="8"/>
<rect x="145" y="44" width="2" height="5"/>
<rect x="145" y="641" width="2" height="5"/>
<rect x="90" y="42" width="2" height="7"/>
<rect x="90" y="641" width="2" height="8"/>
<rect x="73" y="49" width="8" height="2"/>
<rect x="870" y="49" width="7" height="2"/>
<rect x="76" y="108" width="5" height="2"/>
<rect x="870" y="108" width="7" height="2"/>
<rect x="73" y="167" width="8" height="2"/>
<rect x="870" y="167" width="7" height="2"/>
<rect x="76" y="226" width="5" height="2"/>
<rect x="870" y="226" width="7" height="2"/>
<rect x="73" y="285" width="8" height="2"/>
<rect x="870" y="285" width="7" height="2"/>
<rect x="76" y="344" width="5" height="2"/>
<rect x="870" y="344" width="7" height="2"/>
<rect x="73" y="403" width="8" height="2"/>
<rect x="870" y="403" width="7" height="2"/>
<rect x="76" y="462" width="5" height="2"/>
<rect x="870" y="462" width="7" height="2"/>
<rect x="73" y="521" width="8" height="2"/>
<rect x="870" y="521" width="7" height="2"/>
<rect x="76" y="580" width="5" height="2"/>
<rect x="870" y="580" width="7" height="2"/>
<rect x="73" y="639" width="8" height="2"/>
<rect x="870" y="639" width="7" height="2"/>
</g>
<path d="M78.2,30 L87.4,30 L82.8,37.3 Z" fill="#000"/>
<path d="M103.7,30 L112.9,30 L108.3,37.3 Z" fill="#000"/>
<path d="M130.8,30 L140.0,30 L135.4,37.3 Z" fill="#000"/>
<path d="M169.7,30 L178.9,30 L174.3,37.3 Z" fill="#000"/>
<path d="M209.8,30 L219.0,30 L214.4,37.3 Z" fill="#000"/>
<path d="M249.7,30 L258.9,30 L254.3,37.3 Z" fill="#000"/>
<path d="M289.6,30 L298.8,30 L294.2,37.3 Z" fill="#000"/>
<path d="M330.1,30 L339.3,30 L334.7,37.3 Z" fill="#000"/>
<path d="M370.5,30 L379.7,30 L375.1,37.3 Z" fill="#000"/>
<path d="M411.0,30 L420.2,30 L415.6,37.3 Z" fill="#000"/>
<path d="M450.8,30 L460.0,30 L455.4,37.3 Z" fill="#000"/>
<path d="M490.7,30 L499.9,30 L495.3,37.3 Z" fill="#000"/>
<path d="M531.5,30 L540.7,30 L536.1,37.3 Z" fill="#000"/>
<path d="M571.4,30 L580.6,30 L576.0,37.3 Z" fill="#000"/>
<path d="M612.7,30 L621.9,30 L617.3,37.3 Z" fill="#000"/>
<path d="M652.4,30 L661.6,30 L657.0,37.3 Z" fill="#000"/>
<path d="M672.5,30 L681.7,30 L677.1,37.3 Z" fill="#000"/>
<path d="M693.8,30 L703.0,30 L698.4,37.3 Z" fill="#000"/>
<path d="M713.9,30 L723.1,30 L718.5,37.3 Z" fill="#000"/>
<path d="M734.7,30 L743.9,30 L739.3,37.3 Z" fill="#000"/>
<path d="M755.1,30 L764.3,30 L759.7,37.3 Z" fill="#000"/>
<path d="M775.2,30 L784.4,30 L779.8,37.3 Z" fill="#000"/>
<path d="M795.9,30 L805.1,30 L800.5,37.3 Z" fill="#000"/>
<path d="M816.0,30 L825.2,30 L820.6,37.3 Z" fill="#000"/>
<path d="M829.4,30 L838.6,30 L834.0,37.3 Z" fill="#000"/>
<path d="M843.7,30 L852.9,30 L848.3,37.3 Z" fill="#000"/>
<path d="M864.4,30 L873.6,30 L869.0,37.3 Z" fill="#000"/>
<text x="476" y="23" font-size="24.5" text-anchor="middle" textLength="518.5" lengthAdjust="spacingAndGlyphs">Temperature anomaly along Line-P - July 2004</text>
<text x="476.2" y="702" font-size="21.6" text-anchor="middle" textLength="269.5" lengthAdjust="spacingAndGlyphs">Distance along Line-P (km)</text>
<text transform="translate(21.5 345.5) rotate(-90)" font-size="22" text-anchor="middle" textLength="171.5" lengthAdjust="spacing">Pressure (dbar)</text>
<text x="868.9" y="666.6" font-size="19.4" text-anchor="middle">0</text>
<text x="757.8" y="666.6" font-size="19.4" text-anchor="middle">200</text>
<text x="646.6" y="666.6" font-size="19.4" text-anchor="middle">400</text>
<text x="535.5" y="666.6" font-size="19.4" text-anchor="middle">600</text>
<text x="424.3" y="666.6" font-size="19.4" text-anchor="middle">800</text>
<text x="313.2" y="666.6" font-size="19.4" text-anchor="middle">1000</text>
<text x="202.0" y="666.6" font-size="19.4" text-anchor="middle">1200</text>
<text x="90.9" y="666.6" font-size="19.4" text-anchor="middle">1400</text>
<text x="72.6" y="56.9" font-size="19.4" text-anchor="end">0</text>
<text x="72.6" y="174.9" font-size="19.4" text-anchor="end">100</text>
<text x="72.6" y="292.9" font-size="19.4" text-anchor="end">200</text>
<text x="72.6" y="410.9" font-size="19.4" text-anchor="end">300</text>
<text x="72.6" y="528.9" font-size="19.4" text-anchor="end">400</text>
<text x="72.6" y="646.9" font-size="19.4" text-anchor="end">500</text>
</svg></body></html>
